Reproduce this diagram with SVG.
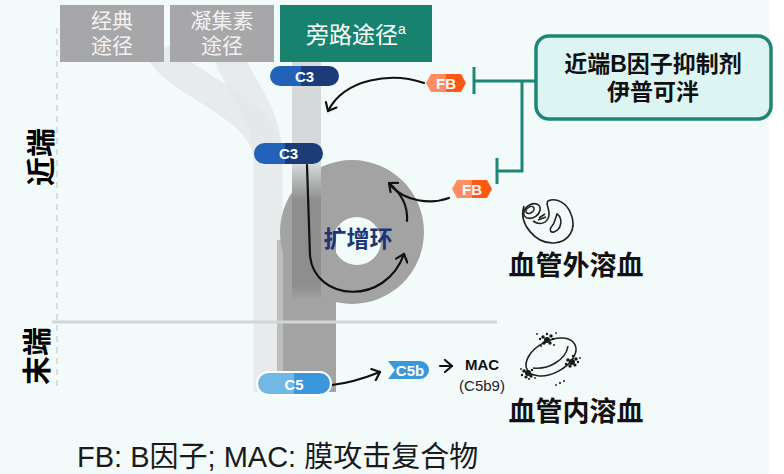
<svg xmlns="http://www.w3.org/2000/svg" width="784" height="474" viewBox="0 0 784 474">
  <style>
    text { font-family: "Liberation Sans", "Noto Sans CJK SC", sans-serif; }
    .hdr { font-size: 21px; fill: #f2f2f2; text-anchor: middle; }
    .hdr-alt { font-size: 23px; fill: #ffffff; text-anchor: middle; }
    .pill-t { font-size: 15px; font-weight: bold; fill: #ffffff; text-anchor: middle; }
    .side { font-size: 29px; font-weight: bold; fill: #000000; text-anchor: middle; dominant-baseline: central; }
    .big { font-size: 27px; font-weight: bold; fill: #111111; text-anchor: middle; }
    .inh-t { font-size: 23px; font-weight: bold; fill: #111111; text-anchor: middle; }
    .flow { fill: none; stroke: #111111; stroke-width: 2.2; stroke-linecap: round; }
    .blk { fill: none; stroke: #1d8676; stroke-width: 3; }
    .cell { fill: none; stroke: #222222; stroke-width: 1.6; }
    .dot { fill: #1a1a1a; }
  </style>
  <defs>
    <marker id="chev" viewBox="0 0 14 14" refX="10" refY="7" markerWidth="14" markerHeight="14" markerUnits="userSpaceOnUse" orient="auto">
      <path d="M3,1 L10,7 L3,13" fill="none" stroke="#111111" stroke-width="2.2" stroke-linecap="round" stroke-linejoin="round"/>
    </marker>
    <linearGradient id="c3fill" x1="0" y1="0" x2="1" y2="0">
      <stop offset="0" stop-color="#2263b9"/>
      <stop offset="0.45" stop-color="#2263b9"/>
      <stop offset="0.45" stop-color="#1b3c79"/>
      <stop offset="1" stop-color="#1b3c79"/>
    </linearGradient>
    <linearGradient id="c5fill" x1="0" y1="0" x2="1" y2="0">
      <stop offset="0" stop-color="#72b8e6"/>
      <stop offset="0.5" stop-color="#72b8e6"/>
      <stop offset="0.5" stop-color="#3a97d9"/>
      <stop offset="1" stop-color="#3a97d9"/>
    </linearGradient>
    <linearGradient id="fbfill" x1="0" y1="0" x2="1" y2="0">
      <stop offset="0" stop-color="#ff8c62"/>
      <stop offset="0.5" stop-color="#ff8c62"/>
      <stop offset="0.5" stop-color="#ff5714"/>
      <stop offset="1" stop-color="#ff5714"/>
    </linearGradient>
    <linearGradient id="altband" gradientUnits="userSpaceOnUse" x1="0" y1="62" x2="0" y2="300">
      <stop offset="0" stop-color="#d5d9d9"/>
      <stop offset="0.43" stop-color="#d5d9d9"/>
      <stop offset="0.58" stop-color="#8e8e8e"/>
      <stop offset="0.94" stop-color="#8e8e8e"/>
      <stop offset="1" stop-color="#a3a3a3"/>
    </linearGradient>
    <path id="fbhex" d="M0,9 L5,0 L35,0 L40,9 L35,18 L5,18 Z"/>
  </defs>

  <!-- canvas -->
  <rect x="0" y="0" width="784" height="474" fill="#ffffff"/>
  <rect x="0" y="0" width="769" height="474" fill="#f3fbfa"/>

  <!-- pathway streams -->
  <g id="streams">
    <path d="M160 50 C175 85 268 105 268 160 L268 392" fill="none" stroke="#e4e8e8" stroke-width="29" opacity="0.85"/>
    <path d="M226 50 C240 90 268 110 268 160" fill="none" stroke="#e4e8e8" stroke-width="29" opacity="0.85"/>
    <rect x="277" y="240" width="6" height="152" fill="#bdbdbd"/>
    <path d="M352 160 A72 72 0 1 1 352 304 A72 72 0 1 1 352 160 Z M357 217 A24 24 0 1 0 357 265 A24 24 0 1 0 357 217 Z" fill="#a3a3a3" fill-rule="evenodd"/>
    <rect x="283" y="232" width="53" height="160" fill="#a3a3a3"/>
    <rect x="292" y="62" width="29" height="238" fill="url(#altband)"/>
  </g>

  <!-- axes -->
  <g id="axes">
    <line x1="57" y1="28" x2="57" y2="386" stroke="#d2d4d6" stroke-width="1.5" stroke-dasharray="6 5"/>
    <line x1="52" y1="322" x2="497" y2="322" stroke="#d0d5d5" stroke-width="3"/>
    <text class="side" x="42" y="157" transform="rotate(-90 42 157)">近端</text>
    <text class="side" x="38" y="356" transform="rotate(-90 38 356)">末端</text>
  </g>

  <!-- pathway headers -->
  <g id="hdr-classical">
    <rect x="60" y="5" width="104" height="57" fill="#a7a7a9"/>
    <text class="hdr" x="112" y="28">经典</text>
    <text class="hdr" x="112" y="53">途径</text>
  </g>
  <g id="hdr-lectin">
    <rect x="170" y="5" width="104" height="57" fill="#a7a7a9"/>
    <text class="hdr" x="222" y="28">凝集素</text>
    <text class="hdr" x="222" y="53">途径</text>
  </g>
  <g id="hdr-alternative">
    <rect x="280" y="5" width="152" height="57" fill="#17836f"/>
    <text class="hdr-alt" x="356" y="43">旁路途径<tspan font-size="14" dy="-9">a</tspan></text>
  </g>

  <!-- connectors -->
  <g id="connectors">
    <path class="flow" d="M424 83 C392 72 345 78 328 111" marker-end="url(#chev)"/>
    <path class="flow" d="M307 165 L310 256 C315 302 386 306 404 254" marker-end="url(#chev)"/>
    <path class="flow" d="M407 221 C408 206 401 193 389 183" marker-end="url(#chev)"/>
    <path class="flow" d="M449 198 C430 205 405 201 391 186"/>
    <path class="flow" d="M332 385 C350 383 365 378 380 372" marker-end="url(#chev)"/>
    <path class="flow" d="M440 366 L452 366" marker-end="url(#chev)"/>
    <!-- inhibition lines -->
    <path class="blk" d="M474 81 L536 81 M522 81 L522 171 L497 171"/>
    <line class="blk" x1="474" y1="67" x2="474" y2="94"/>
    <line class="blk" x1="497" y1="158" x2="497" y2="184"/>
  </g>

  <!-- nodes -->
  <g id="c3-top">
    <rect x="270" y="66" width="69" height="20" rx="10" fill="url(#c3fill)"/>
    <text class="pill-t" x="304.5" y="81.5">C3</text>
  </g>
  <g id="c3-loop">
    <rect x="254" y="143" width="69" height="21" rx="10.5" fill="url(#c3fill)"/>
    <text class="pill-t" x="288.5" y="159">C3</text>
  </g>
  <g id="amplification-loop">
    <text x="358" y="247" font-size="23" font-weight="bold" fill="#1b3577" text-anchor="middle">扩增环</text>
  </g>
  <g id="fb-top">
    <use href="#fbhex" x="426" y="74" fill="url(#fbfill)"/>
    <text class="pill-t" x="446" y="89" font-size="16">FB</text>
  </g>
  <g id="fb-loop">
    <use href="#fbhex" x="452" y="180" fill="url(#fbfill)"/>
    <text class="pill-t" x="472" y="195" font-size="16">FB</text>
  </g>
  <g id="c5">
    <rect x="257" y="372" width="74" height="23" rx="11.5" fill="url(#c5fill)" stroke="#ffffff" stroke-width="2"/>
    <text class="pill-t" x="294" y="389.5" font-size="16">C5</text>
  </g>
  <g id="c5b">
    <path d="M388 361 L420 361 A9 9 0 0 1 420 379 L388 379 L395 370 Z" fill="#3a97d9"/>
    <text class="pill-t" x="410" y="375.5">C5b</text>
  </g>
  <g id="mac">
    <text x="482" y="370" font-size="15" font-weight="bold" fill="#111111" text-anchor="middle">MAC</text>
    <text x="482" y="391" font-size="15" fill="#222222" text-anchor="middle">(C5b9)</text>
  </g>

  <g id="inhibitor">
    <rect x="536" y="36" width="235" height="83" rx="13" fill="#dcf5f2" stroke="#1d8676" stroke-width="3.5"/>
    <text class="inh-t" x="653" y="72">近端B因子抑制剂</text>
    <text class="inh-t" x="653" y="100">伊普可泮</text>
  </g>

  <g id="extravascular">
    <path class="cell" d="M524 206 C518 224 536 244 554 243 C569 242 577 229 571 214 C567 203 556 197 548 201 C545 204 550 209 549 215 C548 223 540 226 533 221"/>
    <ellipse class="cell" cx="532" cy="211" rx="9" ry="6.5" transform="rotate(-35 532 211)"/>
    <ellipse class="cell" cx="530" cy="210" rx="4.5" ry="3" transform="rotate(-35 530 210)"/>
    <path class="cell" d="M539 218 L545 214 M538 220 L546 217"/>
    <path class="cell" d="M557 214 C563 218 562 229 554 232 C550 233 549 229 552 226 C555 223 555 219 557 214 Z"/>
    <text class="big" x="576" y="275">血管外溶血</text>
  </g>

  <g id="intravascular">
    <ellipse class="cell" cx="551" cy="357" rx="27" ry="16" transform="rotate(-28 551 357)"/>
    <path class="cell" d="M533 368 C548 370 566 360 568 346"/>
    <g class="dot">
      <circle cx="547" cy="340" r="3"/><circle cx="543" cy="337" r="1.8"/><circle cx="551" cy="336" r="1.7"/>
      <circle cx="544" cy="343" r="1.8"/><circle cx="550" cy="343" r="1.7"/><circle cx="540" cy="339" r="1.2"/>
      <circle cx="553" cy="339" r="1.2"/><circle cx="547" cy="334" r="1.2"/><circle cx="537" cy="334" r="0.9"/>
      <circle cx="556" cy="333" r="0.9"/><circle cx="541" cy="346" r="1"/><circle cx="554" cy="345" r="1"/>
      <circle cx="572" cy="362" r="3"/><circle cx="568" cy="360" r="1.8"/><circle cx="576" cy="359" r="1.7"/>
      <circle cx="570" cy="366" r="1.7"/><circle cx="575" cy="365" r="1.6"/><circle cx="578" cy="362" r="1.2"/>
      <circle cx="566" cy="364" r="1.2"/><circle cx="573" cy="356" r="1.2"/><circle cx="580" cy="358" r="0.9"/>
      <circle cx="528" cy="373" r="3"/><circle cx="524" cy="371" r="1.8"/><circle cx="531" cy="376" r="1.7"/>
      <circle cx="526" cy="377" r="1.6"/><circle cx="532" cy="370" r="1.2"/><circle cx="522" cy="375" r="1.2"/>
      <circle cx="529" cy="379" r="1"/><circle cx="535" cy="378" r="0.9"/><circle cx="521" cy="369" r="0.9"/>
      <circle cx="560" cy="383" r="1.1"/><circle cx="564" cy="381" r="1"/><circle cx="556" cy="385" r="0.9"/>
    </g>
    <text class="big" x="576" y="421">血管内溶血</text>
  </g>

  <g id="legend">
    <text x="77" y="467" font-size="29" fill="#1a1a1a">FB: B因子; MAC: 膜攻击复合物</text>
  </g>
</svg>
